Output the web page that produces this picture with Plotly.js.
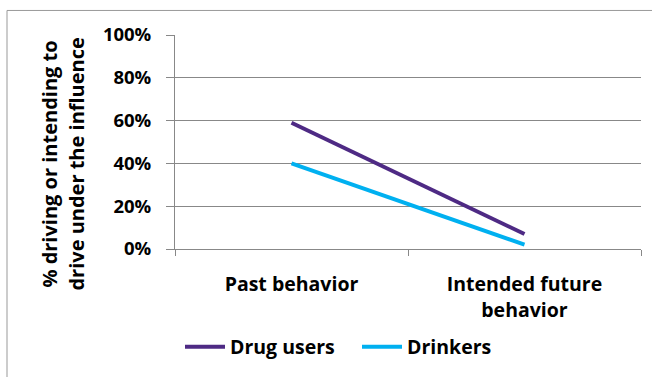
<!DOCTYPE html>
<html>
<head>
<meta charset="utf-8">
<script src="https://cdn.plot.ly/plotly-3.0.1.min.js"></script>
<style>
  html, body { margin: 0; padding: 0; background: #fff; }
  #chart { width: 652px; height: 377px; }
</style>
</head>
<body>
<div id="chart"></div>
<script>
// Share of respondents driving (past) or intending to drive (future) under the influence
const categories = ["Past behavior", "Intended future<br>behavior"];
const drugUsers = [0.59, 0.07];
const drinkers = [0.40, 0.02];
const yTicks = [0, 0.2, 0.4, 0.6, 0.8, 1.0];
const yTickLabels = ["0%", "20%", "40%", "60%", "80%", "100%"];
const yTitleLines = ["% driving or intending to", "drive under the influence"];

const FONT = "'Open Sans', Lato, sans-serif";
const GRID = "#888888";
const boldFont = (size) => ({ family: FONT, size: size, color: "#000000", weight: "bold" });

const traces = [
  {
    x: categories, y: drugUsers, name: "Drug users",
    type: "scatter", mode: "lines",
    line: { color: "#4E2A84", width: 4 }
  },
  {
    x: categories, y: drinkers, name: "Drinkers",
    type: "scatter", mode: "lines",
    line: { color: "#00B0F0", width: 4 }
  }
];

// plot area: 466 x 218 px
const PW = 466, PH = 218, L = 175, B = 253;
const px = (x) => (x - L) / PW;
const py = (y) => (B - y) / PH;

const layout = {
  width: 652, height: 377,
  margin: { l: 175, r: 11, t: 35, b: 124 },
  paper_bgcolor: "#ffffff",
  plot_bgcolor: "#ffffff",
  font: boldFont(19),
  showlegend: true,
  legend: {
    orientation: "h",
    x: px(180), xanchor: "left",
    y: py(333), yanchor: "top",
    font: boldFont(19.5),
    itemwidth: 40,
    entrywidth: 122,
    entrywidthmode: "pixels",
    tracegroupgap: 0
  },
  xaxis: {
    type: "category",
    range: [-0.5, 1.5],
    tickson: "boundaries",
    ticks: "outside", ticklen: 6, tickcolor: GRID, tickwidth: 1,
    showline: true, linecolor: GRID, linewidth: 1,
    showgrid: false, zeroline: false,
    tickfont: boldFont(19.5),
    ticklabelstandoff: 18,
    fixedrange: true
  },
  yaxis: {
    range: [0, 1.0],
    tickvals: yTicks, ticktext: yTickLabels,
    ticks: "outside", ticklen: 8, tickcolor: GRID, tickwidth: 1,
    showline: true, linecolor: GRID, linewidth: 1,
    showgrid: true, gridcolor: GRID, gridwidth: 1,
    zeroline: false,
    tickfont: boldFont(18.5),
    ticklabelstandoff: 11,
    fixedrange: true
  },
  // two-line vertical axis title, spaced a little wider than the default line height
  annotations: yTitleLines.map((t, i) => ({
    text: t, textangle: -90, showarrow: false,
    xref: "paper", yref: "paper",
    x: px(50 + i * 27), y: py(167),
    xanchor: "center", yanchor: "middle",
    font: boldFont(20)
  })),
  shapes: [
    {
      // chart area frame
      type: "rect", xref: "paper", yref: "paper",
      x0: px(7), x1: px(660),
      y0: py(390), y1: py(10),
      line: { color: "#999999", width: 1 },
      fillcolor: "rgba(0,0,0,0)",
      layer: "below"
    }
  ]
};

Plotly.newPlot("chart", traces, layout, { displayModeBar: false, staticPlot: true });
</script>
</body>
</html>
